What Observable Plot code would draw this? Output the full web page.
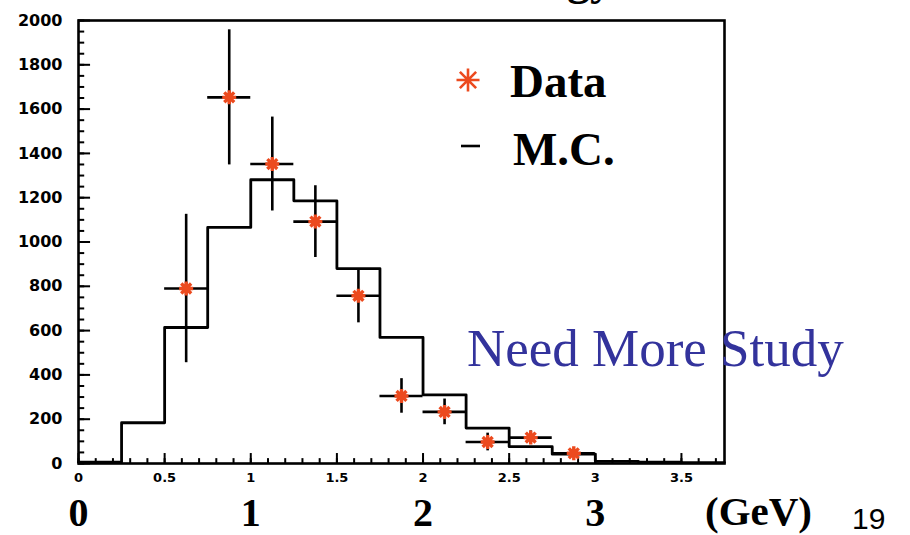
<!DOCTYPE html>
<html>
<head>
<meta charset="utf-8">
<script src="https://cdn.jsdelivr.net/npm/d3@7"></script>
<script src="https://cdn.jsdelivr.net/npm/@observablehq/plot@0.6"></script>
<style>
  html, body { margin: 0; padding: 0; background: #fff; }
  #wrap { position: relative; width: 910px; height: 535px; overflow: hidden; }
  #wrap svg { position: absolute; left: 0; top: 0; }
</style>
</head>
<body>
<div id="wrap"></div>
<script>
// ---- data ----
const binWidth = 0.25;
const mcBinStart = [0, 0.25, 0.5, 0.75, 1.0, 1.25, 1.5, 1.75, 2.0, 2.25, 2.5, 2.75, 3.0, 3.25, 3.5];
const mcValues   = [6, 184, 614, 1066, 1281, 1186, 880, 569, 310, 160, 76, 42, 10, 6, 4];

const dataX   = [0.625, 0.875, 1.125, 1.375, 1.625, 1.875, 2.125, 2.375, 2.625, 2.875];
const dataY   = [790, 1653, 1352, 1092, 757, 305, 233, 97, 117, 46];
const dataErr = [335, 305, 212, 162, 122, 78, 58, 40, 30, 15];

const yMajorTicks = d3.range(0, 2001, 200);
const yMinorTicks = d3.range(0, 2001, 50);
const xMajorTicks = [0, 0.5, 1, 1.5, 2, 2.5, 3, 3.5];
const xMinorTicks = d3.range(0, 3.75, 0.1);
const bigXTicks = [0, 1, 2, 3];

const legendLabels = ["Data", "M.C."];
const noteText = "Need More Study";
const unitText = "(GeV)";
const pageNumber = "19";
const titleFragment = "Energy";

// ---- derived tables ----
const mc = mcBinStart.map((x, i) => ({x, y: mcValues[i]}));
mc.push({x: mcBinStart[mcBinStart.length - 1] + binWidth, y: mcValues[mcValues.length - 1]});
const pts = dataX.map((x, i) => ({x, y: dataY[i], e: dataErr[i]}));

const orange = "#ec4a1e";
const star8 = {
  draw(ctx, size) {
    const r = Math.sqrt(size / Math.PI);
    const d = r * Math.SQRT1_2;
    ctx.moveTo(0, -r); ctx.lineTo(0, r);
    ctx.moveTo(-r, 0); ctx.lineTo(r, 0);
    ctx.moveTo(-d, -d); ctx.lineTo(d, d);
    ctx.moveTo(-d, d); ctx.lineTo(d, -d);
  }
};
const plain = d => String(d);

const chart = Plot.plot({
  width: 910,
  height: 535,
  marginLeft: 78,
  marginRight: 186,
  marginTop: 20,
  marginBottom: 72,
  style: {fontFamily: "DejaVu Sans", fontWeight: "bold", background: "transparent", color: "#000"},
  x: {domain: [0, 3.75]},
  y: {domain: [0, 2000]},
  marks: [
    // inward ticks
    Plot.ruleY(yMinorTicks, {y: d => d, x1: 0, x2: 0.036, stroke: "#000", strokeWidth: 2}),
    Plot.ruleY(yMajorTicks, {y: d => d, x1: 0, x2: 0.07, stroke: "#000", strokeWidth: 2}),
    Plot.ruleX(xMinorTicks, {x: d => d, y1: 0, y2: 22, stroke: "#000", strokeWidth: 2}),
    Plot.ruleX(xMajorTicks, {x: d => d, y1: 0, y2: 45, stroke: "#000", strokeWidth: 2}),
    // MC histogram
    Plot.line(mc, {x: "x", y: "y", curve: "step-after", stroke: "#000", strokeWidth: 2.8}),
    // error bars
    Plot.ruleX(pts, {x: "x", y1: d => d.y - d.e, y2: d => d.y + d.e, stroke: "#000", strokeWidth: 2.6}),
    Plot.ruleY(pts, {y: "y", x1: d => d.x - binWidth / 2, x2: d => d.x + binWidth / 2, stroke: "#000", strokeWidth: 2.6}),
    // data stars
    Plot.dot(pts, {x: "x", y: "y", symbol: star8, r: 7, fill: "none", stroke: orange, strokeWidth: 3.4}),
    Plot.frame({stroke: "#000", strokeWidth: 2.6}),
    // axes labels
    Plot.axisY({ticks: yMajorTicks, tickFormat: plain, tickSize: 0, tickPadding: 16, label: null, fontSize: 16, fontWeight: "bold", fontFamily: "DejaVu Sans"}),
    Plot.axisX({ticks: xMajorTicks, tickFormat: plain, tickSize: 0, tickPadding: 9, label: null, fontSize: 13, fontWeight: "bold", fontFamily: "DejaVu Sans"}),
    Plot.axisX({ticks: bigXTicks, tickFormat: plain, tickSize: 0, tickPadding: 34, label: null, fontSize: 40, fontWeight: "bold", fontFamily: "Liberation Serif"})
  ]
});

const wrap = document.getElementById("wrap");
wrap.appendChild(chart);

// ---- slide annotations (overlay) ----
const ns = "http://www.w3.org/2000/svg";
const ov = document.createElementNS(ns, "svg");
ov.setAttribute("width", 910);
ov.setAttribute("height", 535);
ov.setAttribute("style", "pointer-events:none");
function txt(str, x, y, attrs) {
  const t = document.createElementNS(ns, "text");
  t.textContent = str;
  t.setAttribute("x", x); t.setAttribute("y", y);
  for (const k in attrs) t.setAttribute(k, attrs[k]);
  ov.appendChild(t);
}
const serifBold = {"font-family": "Liberation Serif, Times New Roman, serif", "font-weight": "bold"};
txt(titleFragment, 613, -6, {...serifBold, "font-size": 46, "text-anchor": "end"});
// legend symbols
const sym = document.createElementNS(ns, "path");
sym.setAttribute("transform", "translate(468,80)");
const p = d3.path(); star8.draw(p, Math.PI * 11.5 * 11.5);
sym.setAttribute("d", p.toString());
sym.setAttribute("stroke", orange); sym.setAttribute("stroke-width", 2.6); sym.setAttribute("fill", "none");
ov.appendChild(sym);
const ln = document.createElementNS(ns, "line");
ln.setAttribute("x1", 461); ln.setAttribute("x2", 480); ln.setAttribute("y1", 146); ln.setAttribute("y2", 146);
ln.setAttribute("stroke", "#000"); ln.setAttribute("stroke-width", 2.6);
ov.appendChild(ln);
txt(legendLabels[0], 510, 97, {...serifBold, "font-size": 47});
txt(legendLabels[1], 513, 165, {...serifBold, "font-size": 47});
txt(noteText, 467, 366, {"font-family": "Liberation Serif, Times New Roman, serif", "font-size": 53, fill: "#33339c"});
txt(unitText, 705, 525, {...serifBold, "font-size": 41});
txt(pageNumber, 852, 529, {"font-family": "Liberation Sans, Arial, sans-serif", "font-size": 30});
wrap.appendChild(ov);
</script>
</body>
</html>
